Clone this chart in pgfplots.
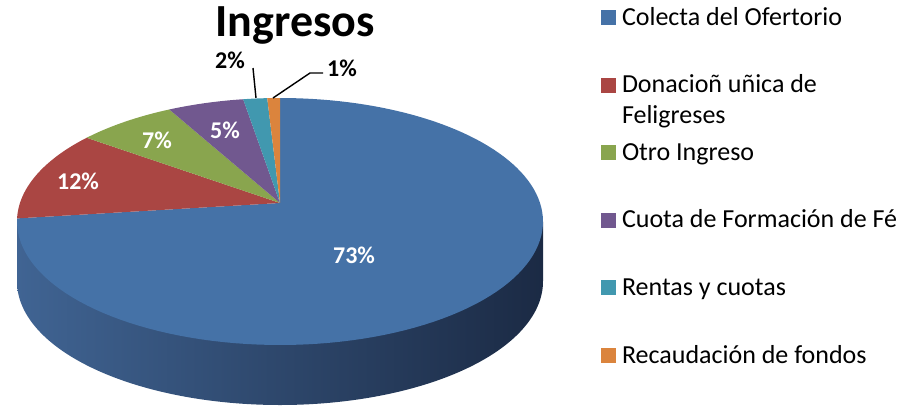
\documentclass[border=0pt]{standalone}
\usepackage{fontspec}
\setmainfont{Carlito}
\usepackage{pgfplots}
\pgfplotsset{compat=1.18}
\definecolor{cBlue}{RGB}{69,114,167}
\definecolor{cRed}{RGB}{170,70,67}
\definecolor{cGreen}{RGB}{137,165,78}
\definecolor{cPurple}{RGB}{113,88,143}
\definecolor{cTeal}{RGB}{65,152,175}
\definecolor{cOrange}{RGB}{219,132,61}
\definecolor{cSideL}{RGB}{64,100,147}
\definecolor{cSideR}{RGB}{27,42,68}
% slice: start cumulative %, end cumulative %, colour
\newcommand{\pieslice}[3]{%
  \pgfmathsetmacro{\sA}{#1}%
  \pgfmathsetmacro{\sB}{#2}%
  \pgfmathsetmacro{\sS}{(#2-#1)/120}%
  \pgfmathsetmacro{\sZ}{#1-\sS}%
  \pgfmathsetmacro{\sH}{#1-\sS/2}%
  \edef\doslice{\noexpand\addplot[forget plot, fill=#3, draw=none, domain=\sZ:\sB, samples=122]
    ({ifthenelse(x<\sH,280,px(90-3.6*max(x,\sA)))},{ifthenelse(x<\sH,py0,py(90-3.6*max(x,\sA)))});}%
  \doslice}
\newcommand{\key}[1]{\textcolor{#1}{\rule{15pt}{15pt}}\hspace{6pt}}
\begin{document}
\begin{tikzpicture}
\useasboundingbox (0,0) rectangle (914pt,408pt);
\begin{axis}[
  scale only axis, width=914pt, height=408pt,
  xmin=0, xmax=914, ymin=0, ymax=408, y dir=reverse,
  hide axis, clip=false,
  declare function={
    px(\p)=280+263*cos(\p)*0.98869/(1+0.15*sin(\p));
    py(\p)=221.5-123.5*(sin(\p)+0.15)/(1+0.15*sin(\p));
    py0=221.5-123.5*0.15;
  },
  legend cell align=left,
  legend image code/.code={},
  legend style={at={(axis cs:601,7)}, anchor=north west, draw=none, fill=none,
    inner sep=0pt, outer sep=0pt, row sep=43.6pt, column sep=0pt,
    font=\fontsize{26}{31}\selectfont,
    nodes={inner sep=0pt, text height=18pt, text depth=6pt}},
]
% side of the pie
\addplot[forget plot, draw=none, left color=cSideL, right color=cSideR, domain=179:361, samples=183]
  ({ifthenelse(x<180,17,ifthenelse(x>360,543,280+263*cos(x)))},
   {ifthenelse(x<180,221.5,ifthenelse(x>360,221.5,281.5-123.5*sin(x)))});
% top face: cumulative shares 0, 73, 85, 92, 97.4, 99.1, 100
\pieslice{0}{73}{cBlue}
\pieslice{73}{85}{cRed}
\pieslice{85}{92}{cGreen}
\pieslice{92}{97.4}{cPurple}
\pieslice{97.4}{99.1}{cTeal}
\pieslice{99.1}{100}{cOrange}
% leader lines
\addplot[forget plot, black, line width=1.4pt] coordinates {(253,68) (256,98)};
\addplot[forget plot, black, line width=1.4pt] coordinates {(323,73) (310,73) (273,98)};
% labels
\node[font=\bfseries\fontsize{24}{29}\selectfont, white] at (axis cs:354,255) {73\%};
\node[font=\bfseries\fontsize{24}{29}\selectfont, white] at (axis cs:78,181) {12\%};
\node[font=\bfseries\fontsize{24}{29}\selectfont, white] at (axis cs:157,140) {7\%};
\node[font=\bfseries\fontsize{24}{29}\selectfont, white] at (axis cs:225,130) {5\%};
\node[font=\bfseries\fontsize{24}{29}\selectfont, black] at (axis cs:230,60.5) {2\%};
\node[font=\bfseries\fontsize{24}{29}\selectfont, black] at (axis cs:342,68.5) {1\%};
\node[font=\bfseries\fontsize{46}{55}\selectfont, anchor=base] at (axis cs:295,36) {Ingresos};
% legend
\addlegendimage{fill=cBlue}\addlegendentry{\key{cBlue}Colecta del Ofertorio}
\addlegendimage{fill=cRed}\addlegendentry{\key{cRed}\makebox[0pt][l]{\raisebox{-31pt}[0pt][0pt]{Feligreses}}Donacioñ uñica de}
\addlegendimage{fill=cGreen}\addlegendentry{\key{cGreen}Otro Ingreso}
\addlegendimage{fill=cPurple}\addlegendentry{\key{cPurple}Cuota de Formación de Fé}
\addlegendimage{fill=cTeal}\addlegendentry{\key{cTeal}Rentas y cuotas}
\addlegendimage{fill=cOrange}\addlegendentry{\key{cOrange}Recaudación de fondos}
\end{axis}
\end{tikzpicture}
\end{document}
